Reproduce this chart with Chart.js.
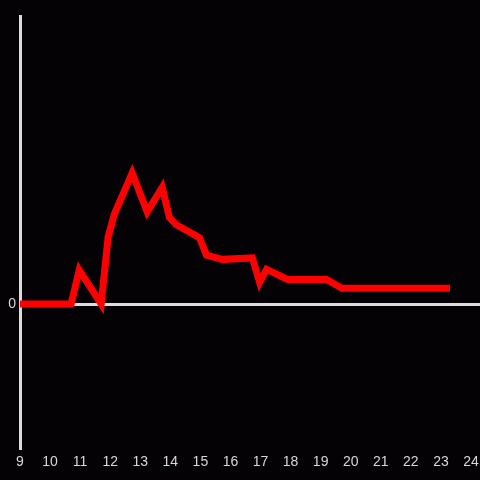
<!DOCTYPE html>
<html>
<head>
    <meta charset="UTF-8">
    <script src="https://cdn.jsdelivr.net/npm/chart.js"></script>
    <style>
        html, body {
            margin: 0;
            padding: 0;
            background-color: #040205;
        }
        .chart-box {
            width: 480px;
            height: 480px;
        }
    </style>
</head>
<body>
    <div class="chart-box">
        <canvas id="lineChart"></canvas>
    </div>

    <script>
        // values
        const hours = [9, 10.7, 10.97, 11.7, 11.93, 12.13, 12.73, 13.23, 13.73, 13.97, 14.2, 14.97, 15.2, 15.73, 16.73, 16.97, 17.2, 17.9, 19.2, 19.7, 23.3];
        const values = [0, 0, 0.236, 0, 0.465, 0.62, 0.91, 0.64, 0.81, 0.6, 0.55, 0.46, 0.34, 0.31, 0.32, 0.15, 0.24, 0.17, 0.17, 0.11, 0.11];
        const xTicks = [9, 10, 11, 12, 13, 14, 15, 16, 17, 18, 19, 20, 21, 22, 23, 24];
        const yTicks = [0];

        const points = hours.map((h, i) => ({ x: h, y: values[i] }));

        const ctx = document.getElementById('lineChart').getContext('2d');
        new Chart(ctx, {
            type: 'line',
            data: {
                datasets: [{
                    data: points,
                    borderColor: '#ff0000',
                    borderWidth: 7,
                    pointRadius: 0,
                    tension: 0,
                    fill: false
                }]
            },
            options: {
                responsive: true,
                maintainAspectRatio: false,
                animation: false,
                layout: { padding: { top: 16, right: 0, left: 0, bottom: 0 } },
                plugins: {
                    legend: { display: false },
                    tooltip: { enabled: false }
                },
                scales: {
                    x: {
                        type: 'linear',
                        min: 9,
                        max: 24.3,
                        grid: { display: false },
                        border: { display: false },
                        afterBuildTicks: (scale) => {
                            scale.ticks = xTicks.map(v => ({ value: v }));
                        },
                        afterFit: (scale) => {
                            scale.height = 32;
                            scale.paddingLeft = 0;
                            scale.paddingRight = 0;
                        },
                        ticks: {
                            color: '#d8d8d8',
                            padding: -2,
                            maxRotation: 0,
                            autoSkip: false,
                            font: { family: 'Liberation Sans', size: 14 }
                        }
                    },
                    y: {
                        min: -1,
                        max: 2,
                        afterBuildTicks: (scale) => {
                            scale.ticks = yTicks.map(v => ({ value: v }));
                        },
                        afterFit: (scale) => {
                            scale.width = 20;
                            scale.paddingTop = 0;
                            scale.paddingBottom = 0;
                        },
                        grid: {
                            color: '#dcdcdc',
                            lineWidth: 3,
                            drawTicks: false
                        },
                        border: { display: true, color: '#dcdcdc', width: 3 },
                        ticks: {
                            color: '#d8d8d8',
                            padding: 4,
                            font: { family: 'Liberation Sans', size: 14 }
                        }
                    }
                }
            }
        });
    </script>
</body>
</html>
